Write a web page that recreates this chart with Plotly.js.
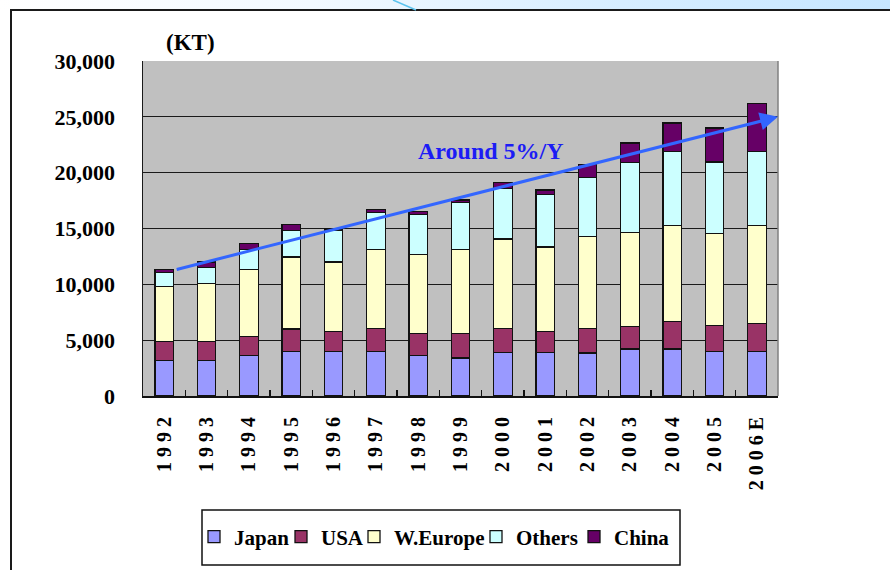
<!DOCTYPE html>
<html>
<head>
<meta charset="utf-8">
<script src="https://cdn.plot.ly/plotly-3.0.1.min.js"></script>
<style>
  html, body { margin: 0; padding: 0; background: #ffffff; }
  #wrap { position: relative; width: 890px; height: 570px; overflow: hidden; background: #ffffff; }
  #strip { position: absolute; left: 0; top: 0; width: 890px; height: 9px;
           background: linear-gradient(to right, #ffffff 0%, #f2f9ff 35%, #d6edff 70%, #c6e6ff 100%); }
  #frame { position: absolute; left: 10px; top: 9px; width: 960px; height: 640px;
           border: 2px solid #1a1a1a; box-sizing: border-box; }
  #deco { position: absolute; left: 0; top: 0; }
  #chart { position: absolute; left: 0; top: 0; width: 890px; height: 570px; }
</style>
</head>
<body>
<div id="wrap">
  <div id="strip"></div>
  <div id="frame"></div>
  <svg id="deco" width="890" height="12"><line x1="393" y1="0" x2="416" y2="10" stroke="#5cc3ee" stroke-width="1.5"/></svg>
  <div id="chart"></div>
</div>
<script>
const years = ['1992','1993','1994','1995','1996','1997','1998','1999','2000','2001','2002','2003','2004','2005','2006E'];
const tickLabels = years.map(y => y.split('').join(' '));
const japan   = [3200, 3200, 3650, 4000, 4000, 4000, 3650, 3400, 3900, 3900, 3850, 4200, 4200, 4000, 4000];
const usa     = [1700, 1700, 1700, 2000, 1800, 2050, 1950, 2200, 2150, 1900, 2200, 2050, 2500, 2300, 2500];
const weurope = [4900, 5150, 6000, 6450, 6200, 7100, 7050, 7500, 8000, 7550, 8250, 8400, 8550, 8250, 8800];
const others  = [1250, 1450, 1800, 2400, 2850, 3300, 3600, 4250, 4550, 4700, 5250, 6250, 6650, 6400, 6600];
const china   = [ 250,  500,  500,  500,  100,  250,  250,  200,  500,  400, 1200, 1750, 2550, 3050, 4300];
const trendStart = 11300, trendEnd = 25000;
const yTicks = [0, 5000, 10000, 15000, 20000, 25000, 30000];

const serif = 'Liberation Serif, Times New Roman, serif';
const legendFont = { family: serif, size: 21, color: '#000000', weight: 700 };

// plot-area pixel frame (for placing legend entries / box in paper units)
const PL = 143, PW = 635, PB = 396, PH = 335;
const px2x = p => (p - PL) / PW;
const py2y = p => (PB - p) / PH;

const legendIds = ['legend', 'legend2', 'legend3', 'legend4', 'legend5'];
const legendLeft = [194, 281, 354, 476, 574];

function bar(name, vals, color, i) {
  return { type: 'bar', name: name, x: years, y: vals, legend: legendIds[i],
           marker: { color: color, line: { color: '#111111', width: 1.3 } },
           hoverinfo: 'skip' };
}
const data = [
  bar('Japan', japan, '#9999ff', 0),
  bar('USA', usa, '#993366', 1),
  bar('W.Europe', weurope, '#ffffcc', 2),
  bar('Others', others, '#ccffff', 3),
  bar('China', china, '#660066', 4)
];

const layout = {
  width: 890, height: 570,
  margin: { l: PL, r: 890 - PL - PW, t: PB - PH, b: 570 - PB, pad: 0 },
  paper_bgcolor: 'rgba(0,0,0,0)',
  plot_bgcolor: '#c0c0c0',
  barmode: 'stack',
  bargap: 0.56,
  showlegend: true,
  xaxis: {
    type: 'category', range: [-0.5, years.length - 0.5], autorange: false,
    tickmode: 'array', tickvals: years, ticktext: tickLabels,
    tickangle: -90, tickson: 'boundaries', ticks: 'inside', ticklen: 6, tickwidth: 1.2, tickcolor: '#111111',
    showline: true, linecolor: '#111111', linewidth: 2,
    showgrid: false, zeroline: false, fixedrange: true,
    ticklabelstandoff: 11,
    tickfont: { family: serif, size: 20, color: '#000000', weight: 700 }
  },
  yaxis: {
    range: [0, 30000], autorange: false, tickmode: 'array', tickvals: yTicks, tickformat: ',',
    showgrid: true, gridcolor: '#1a1a1a', gridwidth: 1,
    showline: true, linecolor: '#1a1a1a', linewidth: 1.5,
    zeroline: false, ticks: '', fixedrange: true,
    ticklabelstandoff: 22,
    tickfont: { family: serif, size: 22, color: '#000000', weight: 700 }
  },
  shapes: [
    { type: 'line', xref: 'paper', yref: 'paper', x0: 1, x1: 1, y0: 0, y1: 1,
      line: { color: '#808080', width: 1.5 } },
    { type: 'rect', xref: 'paper', yref: 'paper', layer: 'above',
      x0: px2x(202), x1: px2x(680), y0: py2y(510), y1: py2y(565),
      fillcolor: '#ffffff', line: { color: '#111111', width: 1.5 } }
  ],
  annotations: [
    { xref: 'x', yref: 'y', axref: 'x', ayref: 'y',
      x: 14.5, y: trendEnd, ax: 0.26, ay: trendStart,
      text: '', showarrow: true, arrowhead: 2, arrowsize: 1.2, arrowwidth: 3,
      arrowcolor: '#3366ff', standoff: 0, startstandoff: 0 },
    { xref: 'x', yref: 'y', x: 7.72, y: 21970, text: 'Around 5%/Y', showarrow: false,
      xanchor: 'center', yanchor: 'middle',
      font: { family: serif, size: 24, color: '#1c1cf5', weight: 700 } },
    { xref: 'paper', yref: 'paper', x: px2x(190), y: py2y(43), text: '(KT)', showarrow: false,
      xanchor: 'center', yanchor: 'middle',
      font: { family: serif, size: 23, color: '#000000', weight: 700 } }
  ]
};

legendIds.forEach((id, i) => {
  layout[id] = {
    x: px2x(legendLeft[i]), y: py2y(537), xanchor: 'left', yanchor: 'middle',
    bgcolor: 'rgba(0,0,0,0)', borderwidth: 0, orientation: 'h',
    font: legendFont, itemwidth: 30
  };
});

Plotly.newPlot('chart', data, layout, { displayModeBar: false, staticPlot: true });
</script>
</body>
</html>
